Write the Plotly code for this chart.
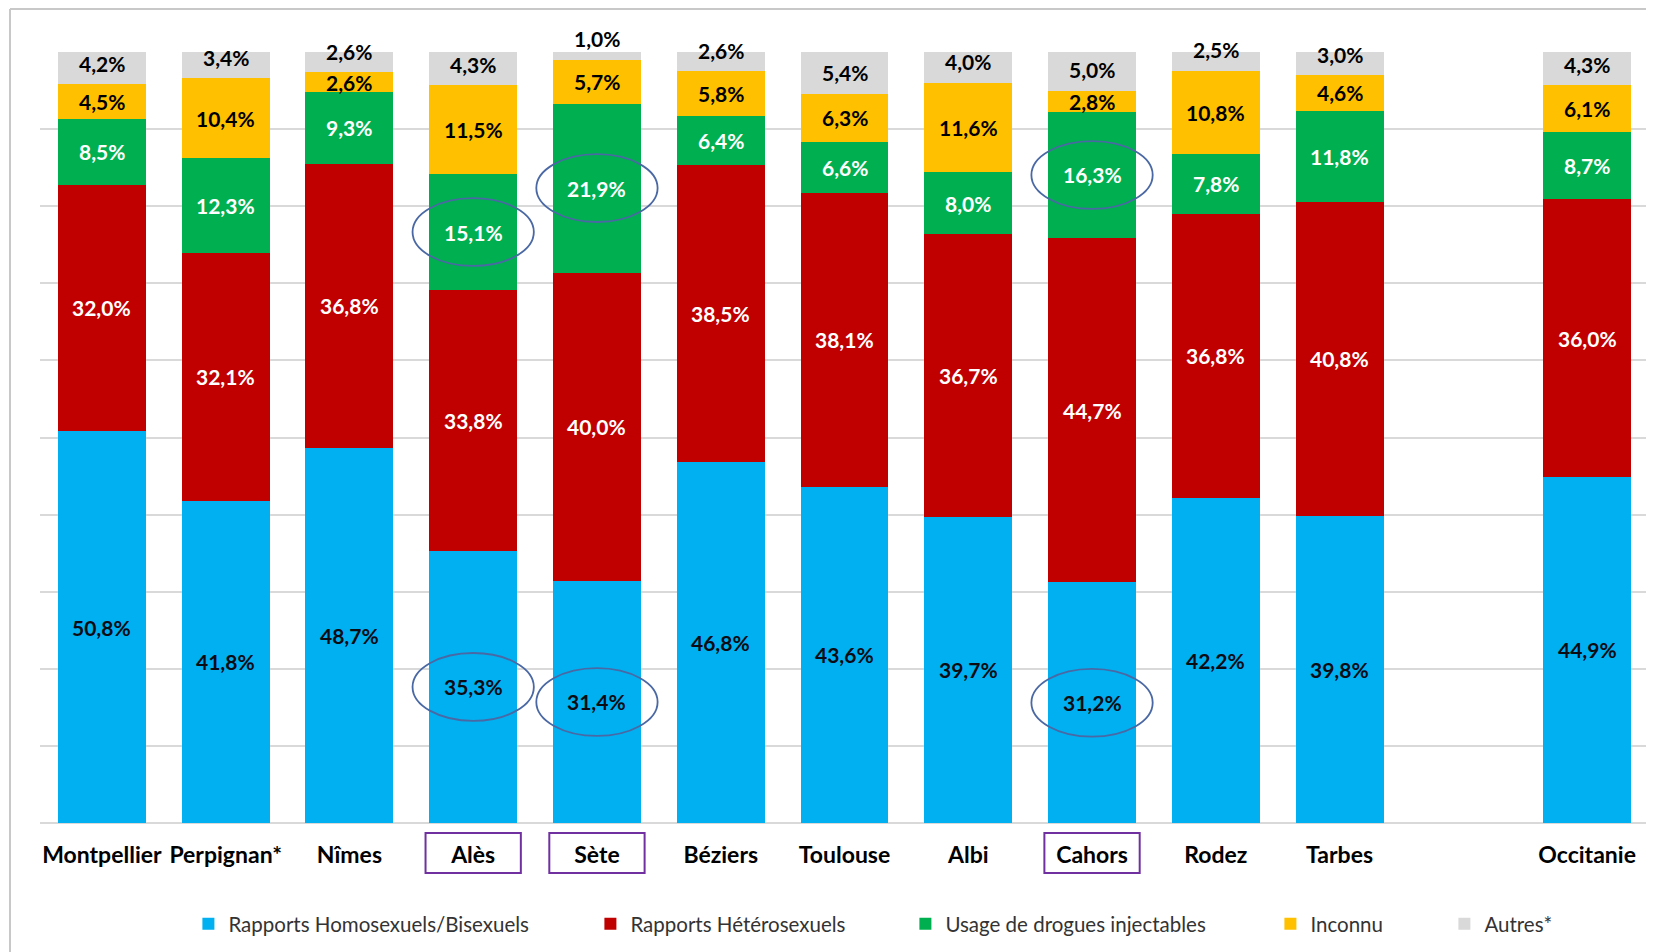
import plotly.graph_objects as go

# ---------------- data ----------------
categories = ["Montpellier", "Perpignan*", "Nîmes", "Alès", "Sète", "Béziers",
              "Toulouse", "Albi", "Cahors", "Rodez", "Tarbes", "Occitanie"]
axis_order = categories[:11] + [" "] + ["Occitanie"]

homo    = [50.8, 41.8, 48.7, 35.3, 31.4, 46.8, 43.6, 39.7, 31.2, 42.2, 39.8, 44.9]
hetero  = [32.0, 32.1, 36.8, 33.8, 40.0, 38.5, 38.1, 36.7, 44.7, 36.8, 40.8, 36.0]
drogues = [8.5, 12.3, 9.3, 15.1, 21.9, 6.4, 6.6, 8.0, 16.3, 7.8, 11.8, 8.7]
inconnu = [4.5, 10.4, 2.6, 11.5, 5.7, 5.8, 6.3, 11.6, 2.8, 10.8, 4.6, 6.1]
autres  = [4.2, 3.4, 2.6, 4.3, 1.0, 2.6, 5.4, 4.0, 5.0, 2.5, 3.0, 4.3]

series_names = ["Rapports Homosexuels/Bisexuels", "Rapports Hétérosexuels",
                "Usage de drogues injectables", "Inconnu", "Autres*"]
series_values = [homo, hetero, drogues, inconnu, autres]
series_colors = ["#00B0F0", "#C00000", "#00B050", "#FFC000", "#D9D9D9"]
label_colors = ["#0b0b14", "#FFFFFF", "#FFFFFF", "#000000", "#000000"]

highlight_cities = ["Alès", "Sète", "Cahors"]
highlight_series = [0, 2]  # circled labels: blue and green segments

# ---------------- layout constants ----------------
# page body has an 8px margin: figure coordinates = screen coordinates - 8
W, H = 1654, 952
OFF = 8
ML, MR, MT, MB = 32, 13, 44, 137
PW, PH = W - ML - MR, H - MT - MB
PLOT_BOTTOM = H - MB
FONT = "Lato, 'Open Sans', sans-serif"

fig = go.Figure()
legend_ids = ["legend", "legend2", "legend3", "legend4", "legend5"]
for name, vals, col, lid in zip(series_names, series_values, series_colors, legend_ids):
    fig.add_trace(go.Bar(x=categories, y=vals, name=name, marker_color=col,
                         marker_line_width=0, legend=lid, hoverinfo="x+y+name"))

annotations = []
shapes = []
label_pos = {}
for i, city in enumerate(categories):
    base = 0.0
    for s, vals in enumerate(series_values):
        v = vals[i]
        txt = f"{v:.1f}%".replace(".", ",")
        if s == 4:
            y, ys = base, 21
        else:
            y, ys = base + v / 2, 0
        label_pos[(city, s)] = y
        annotations.append(dict(x=city, y=y, xref="x", yref="y", text=txt, showarrow=False,
                                yshift=ys, yanchor="middle",
                                font=dict(family=FONT, size=21, color=label_colors[s], weight="bold")))
        base += v

# ellipses around highlighted labels + purple boxes around their tick labels
for city in highlight_cities:
    idx = axis_order.index(city)
    for s in highlight_series:
        yc = label_pos[(city, s)]
        shapes.append(dict(type="circle", xref="x", yref="y",
                           x0=idx - 0.49, x1=idx + 0.49, y0=yc - 4.4, y1=yc + 4.4,
                           line=dict(color="#4A68A4", width=1.8), layer="above"))
    shapes.append(dict(type="rect", xref="x", yref="paper",
                       x0=idx - 0.385, x1=idx + 0.385,
                       y0=-(873 - OFF - PLOT_BOTTOM) / PH, y1=-(833 - OFF - PLOT_BOTTOM) / PH,
                       line=dict(color="#7030A0", width=2), layer="above"))

# outer frame (left and top edges visible)
fx = (10 - OFF - ML) / PW
fy = (PLOT_BOTTOM - 1) / PH
shapes.append(dict(type="line", xref="paper", yref="paper", x0=fx, x1=fx, y0=-0.3, y1=fy,
                   line=dict(color="#C8C8C8", width=2)))
shapes.append(dict(type="line", xref="paper", yref="paper", x0=fx, x1=1.05, y0=fy, y1=fy,
                   line=dict(color="#C8C8C8", width=2)))

legend_text_x = [225, 627, 942, 1307, 1481]   # screen x where each legend text starts
layout_legends = {}
for lid, tx in zip(legend_ids, legend_text_x):
    layout_legends[lid] = dict(orientation="h", xref="container", yref="container",
                               x=(tx + 4 - 40.6 - OFF) / W, y=1 - (924 - OFF) / H,
                               xanchor="left", yanchor="middle",
                               bgcolor="rgba(0,0,0,0)", borderwidth=0,
                               font=dict(family=FONT, size=20.5, color="#333333"))

fig.update_layout(
    width=W, height=H,
    margin=dict(l=ML, r=MR, t=MT, b=MB),
    barmode="stack", bargap=0.29,
    plot_bgcolor="white", paper_bgcolor="white",
    showlegend=True,
    annotations=annotations, shapes=shapes,
    xaxis=dict(type="category", categoryorder="array", categoryarray=axis_order,
               range=[-0.5, len(axis_order) - 0.5], showgrid=False, zeroline=False,
               showline=False, ticks="", ticklabelstandoff=16,
               tickfont=dict(family=FONT, size=23, color="#000000", weight="bold")),
    yaxis=dict(range=[0, 100], dtick=10, showticklabels=False, showgrid=True,
               gridcolor="#D9D9D9", gridwidth=1.5, zeroline=True, zerolinecolor="#D9D9D9",
               zerolinewidth=1.5, showline=False, ticks=""),
    **layout_legends,
)

fig.write_html("out.html")
